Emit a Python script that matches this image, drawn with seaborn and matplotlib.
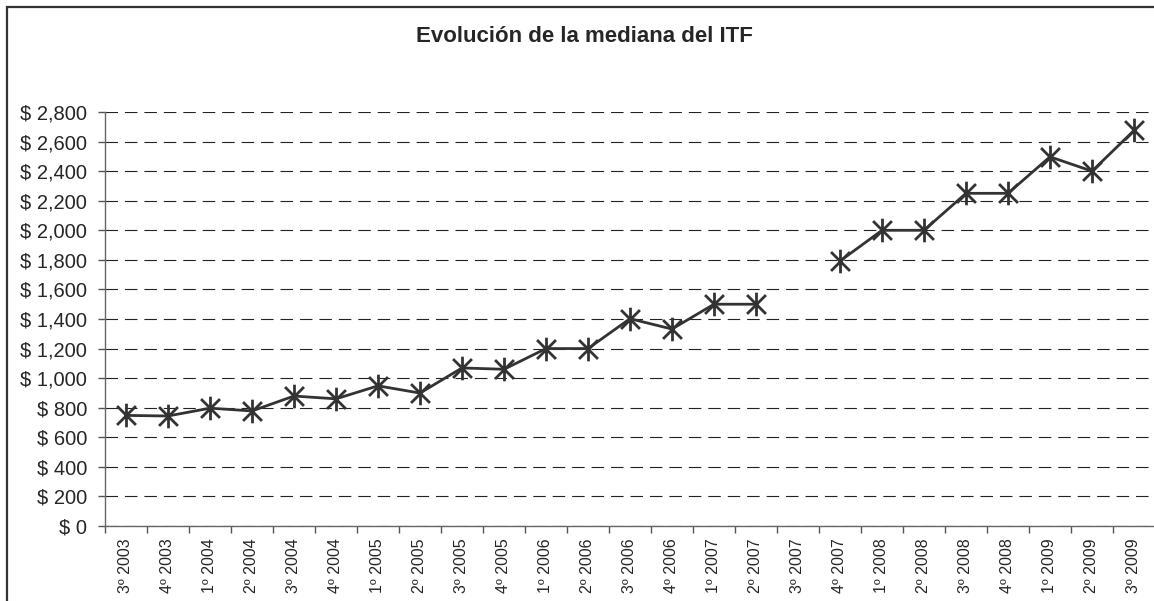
import numpy as np
import pandas as pd
import matplotlib
matplotlib.use("Agg")
import matplotlib.pyplot as plt
from matplotlib.path import Path
from matplotlib.patches import Rectangle
from matplotlib.ticker import FuncFormatter
import seaborn as sns

# data
quarters = ["3º 2003", "4º 2003", "1º 2004", "2º 2004", "3º 2004", "4º 2004",
            "1º 2005", "2º 2005", "3º 2005", "4º 2005", "1º 2006", "2º 2006",
            "3º 2006", "4º 2006", "1º 2007", "2º 2007", "3º 2007", "4º 2007",
            "1º 2008", "2º 2008", "3º 2008", "4º 2008", "1º 2009", "2º 2009",
            "3º 2009"]
median_itf = [748, 744, 797, 778, 879, 860, 948, 899, 1069, 1060, 1200, 1200,
              1402, 1332, 1500, 1500, np.nan, 1792, 2000, 2000, 2250, 2250,
              2497, 2400, 2675]
y_ticks = list(range(0, 2801, 200))

title = "Evolución de la mediana del ITF"

sns.set_style("white")
plt.rcParams["font.family"] = ["Liberation Sans", "DejaVu Sans"]
plt.rcParams["lines.scale_dashes"] = False

df = pd.DataFrame({"quarter": quarters, "value": median_itf})
df["pos"] = np.arange(len(df))
df["segment"] = df["value"].isna().cumsum()
df = df.dropna(subset=["value"])

# Excel-style asterisk marker: an X with a vertical bar
star = Path([(-1, -1), (1, 1), (-1, 1), (1, -1), (0, -1.25), (0, 1.25)],
            [Path.MOVETO, Path.LINETO, Path.MOVETO, Path.LINETO, Path.MOVETO, Path.LINETO])

W, H = 1154, 601
fig = plt.figure(figsize=(W / 100, H / 100), dpi=100)
ax = fig.add_axes([105 / W, 75 / H, 1050 / W, 414 / H])

sns.lineplot(data=df, x="pos", y="value", units="segment", estimator=None,
             color="#333333", linewidth=2.0, marker=star, markersize=17,
             markeredgewidth=2.0, markeredgecolor="#333333", ax=ax, legend=False)

ax.set_xlim(-0.5, len(quarters) - 0.5)
ax.set_ylim(0, 2800)
ax.set_yticks(y_ticks)
ax.yaxis.set_major_formatter(FuncFormatter(lambda v, p: "$ {:,.0f}".format(v)))
ax.tick_params(axis="y", direction="out", length=5, width=1, color="#555555",
               labelsize=14.5, pad=8, left=True)

ax.set_xticks(np.arange(-0.5, len(quarters), 1.0))
ax.set_xticklabels([])
ax.set_xticks(np.arange(len(quarters)), minor=True)
ax.set_xticklabels(quarters, minor=True, rotation=90)
ax.tick_params(axis="x", which="major", direction="out", length=5, width=1,
               color="#555555", bottom=True)
ax.tick_params(axis="x", which="minor", length=0, labelsize=11.5, pad=9)

ax.grid(axis="y", color="#222222", linestyle=(0, (9, 5)), linewidth=0.8)
ax.grid(axis="x", visible=False)
ax.set_axisbelow(True)
for side in ["top", "right"]:
    ax.spines[side].set_visible(False)
for side in ["left", "bottom"]:
    ax.spines[side].set_color("#666666")
    ax.spines[side].set_linewidth(1.0)
ax.set_xlabel("")
ax.set_ylabel("")

fig.text(584 / W, 1 - 36 / H, title, ha="center", va="center",
         fontsize=16, fontweight="bold")

# outer chart frame (cut off at right and bottom as in the reference)
fig.add_artist(Rectangle((6.5 / W, -0.1), 2, 1 - 7 / H + 0.1,
                         transform=fig.transFigure, fill=False,
                         edgecolor="#333333", linewidth=1.6))

fig.savefig("out.png", dpi=100)
